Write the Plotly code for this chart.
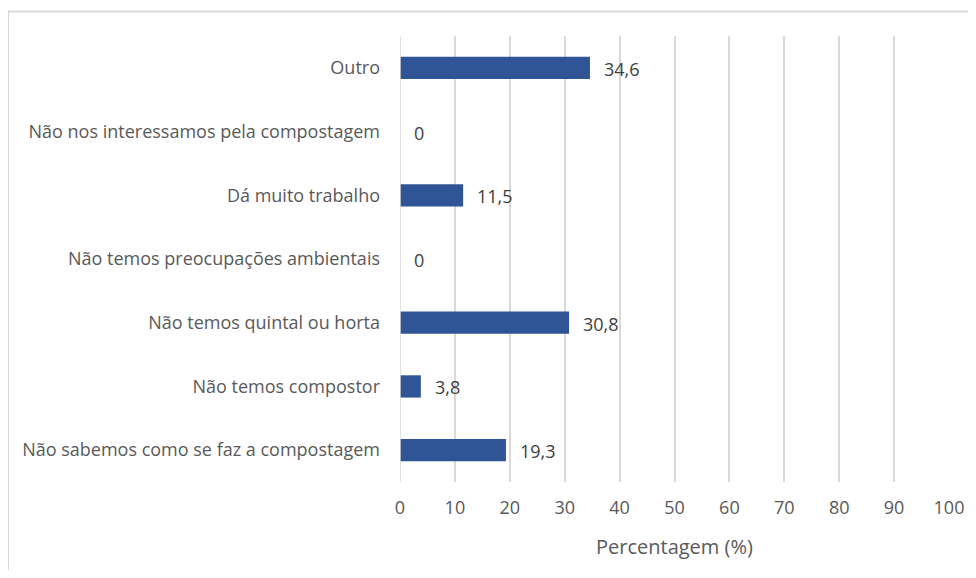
import plotly.graph_objects as go

categories = [
    "Não sabemos como se faz a compostagem",
    "Não temos compostor",
    "Não temos quintal ou horta",
    "Não temos preocupações ambientais",
    "Dá muito trabalho",
    "Não nos interessamos pela compostagem",
    "Outro",
]
values = [19.3, 3.8, 30.8, 0, 11.5, 0, 34.6]
labels = ["19,3", "3,8", "30,8", "0", "11,5", "0", "34,6"]
tick_vals = [0, 10, 20, 30, 40, 50, 60, 70, 80, 90, 100]

# page has an 8px body margin; figure coordinates are page coords minus 8
OFF = 8
W, H = 976 - OFF, 578 - 2 * OFF
L = 400 - OFF
R = W - (949 - OFF)
T = 36 - OFF
B = H - (482 - OFF)

FONT = "Open Sans"
TXT = "#595959"

fig = go.Figure(go.Bar(
    y=categories, x=values, orientation="h",
    marker=dict(color="#2F5597", line=dict(width=0)),
    width=0.35,
    hoverinfo="skip",
))

pw = W - L - R
ph = H - T - B
def px2paper_x(x):
    return (x - OFF - L) / pw
def py2paper_y(y):
    return 1 - (y - OFF - T) / ph

annotations = [
    dict(x=v, y=c, xref="x", yref="y", text=t, showarrow=False,
         xanchor="left", yanchor="middle", xshift=12, yshift=-1,
         font=dict(family=FONT, size=18, color="#404040"))
    for c, v, t in zip(categories, values, labels)
]
annotations.append(dict(
    x=0.5, y=py2paper_y(546), xref="paper", yref="paper", text="Percentagem (%)",
    showarrow=False, xanchor="center", yanchor="middle",
    font=dict(family=FONT, size=20, color=TXT)))

fig.update_layout(
    width=W, height=H,
    margin=dict(l=L, r=R, t=T, b=B, pad=0),
    paper_bgcolor="white", plot_bgcolor="white",
    showlegend=False,
    font=dict(family=FONT, size=18, color=TXT),
    annotations=annotations,
    xaxis=dict(
        range=[0, 100], tickvals=tick_vals, ticktext=[str(v) for v in tick_vals],
        showgrid=True, gridcolor="#D9D9D9", gridwidth=1.5,
        zeroline=False, showline=False, ticks="",
        ticklabelstandoff=13, automargin=False,
        tickfont=dict(family=FONT, size=18, color=TXT),
        fixedrange=True,
    ),
    yaxis=dict(
        showgrid=False, zeroline=False, showline=False, ticks="",
        ticklabelstandoff=19, automargin=False,
        tickfont=dict(family=FONT, size=18, color=TXT),
        range=[-0.5, 6.5],
        fixedrange=True,
    ),
    shapes=[
        dict(type="line", xref="paper", yref="paper",
             x0=px2paper_x(7), x1=px2paper_x(990), y0=py2paper_y(11.5), y1=py2paper_y(11.5),
             line=dict(color="#D9D9D9", width=2)),
        dict(type="line", xref="paper", yref="paper",
             x0=px2paper_x(8), x1=px2paper_x(8), y0=py2paper_y(11.5), y1=py2paper_y(600),
             line=dict(color="#D9D9D9", width=2)),
        dict(type="line", xref="x", yref="paper",
             x0=0, x1=0, y0=0, y1=1, line=dict(color="#D9D9D9", width=1.5)),
    ],
)

fig.write_html("out.html")
